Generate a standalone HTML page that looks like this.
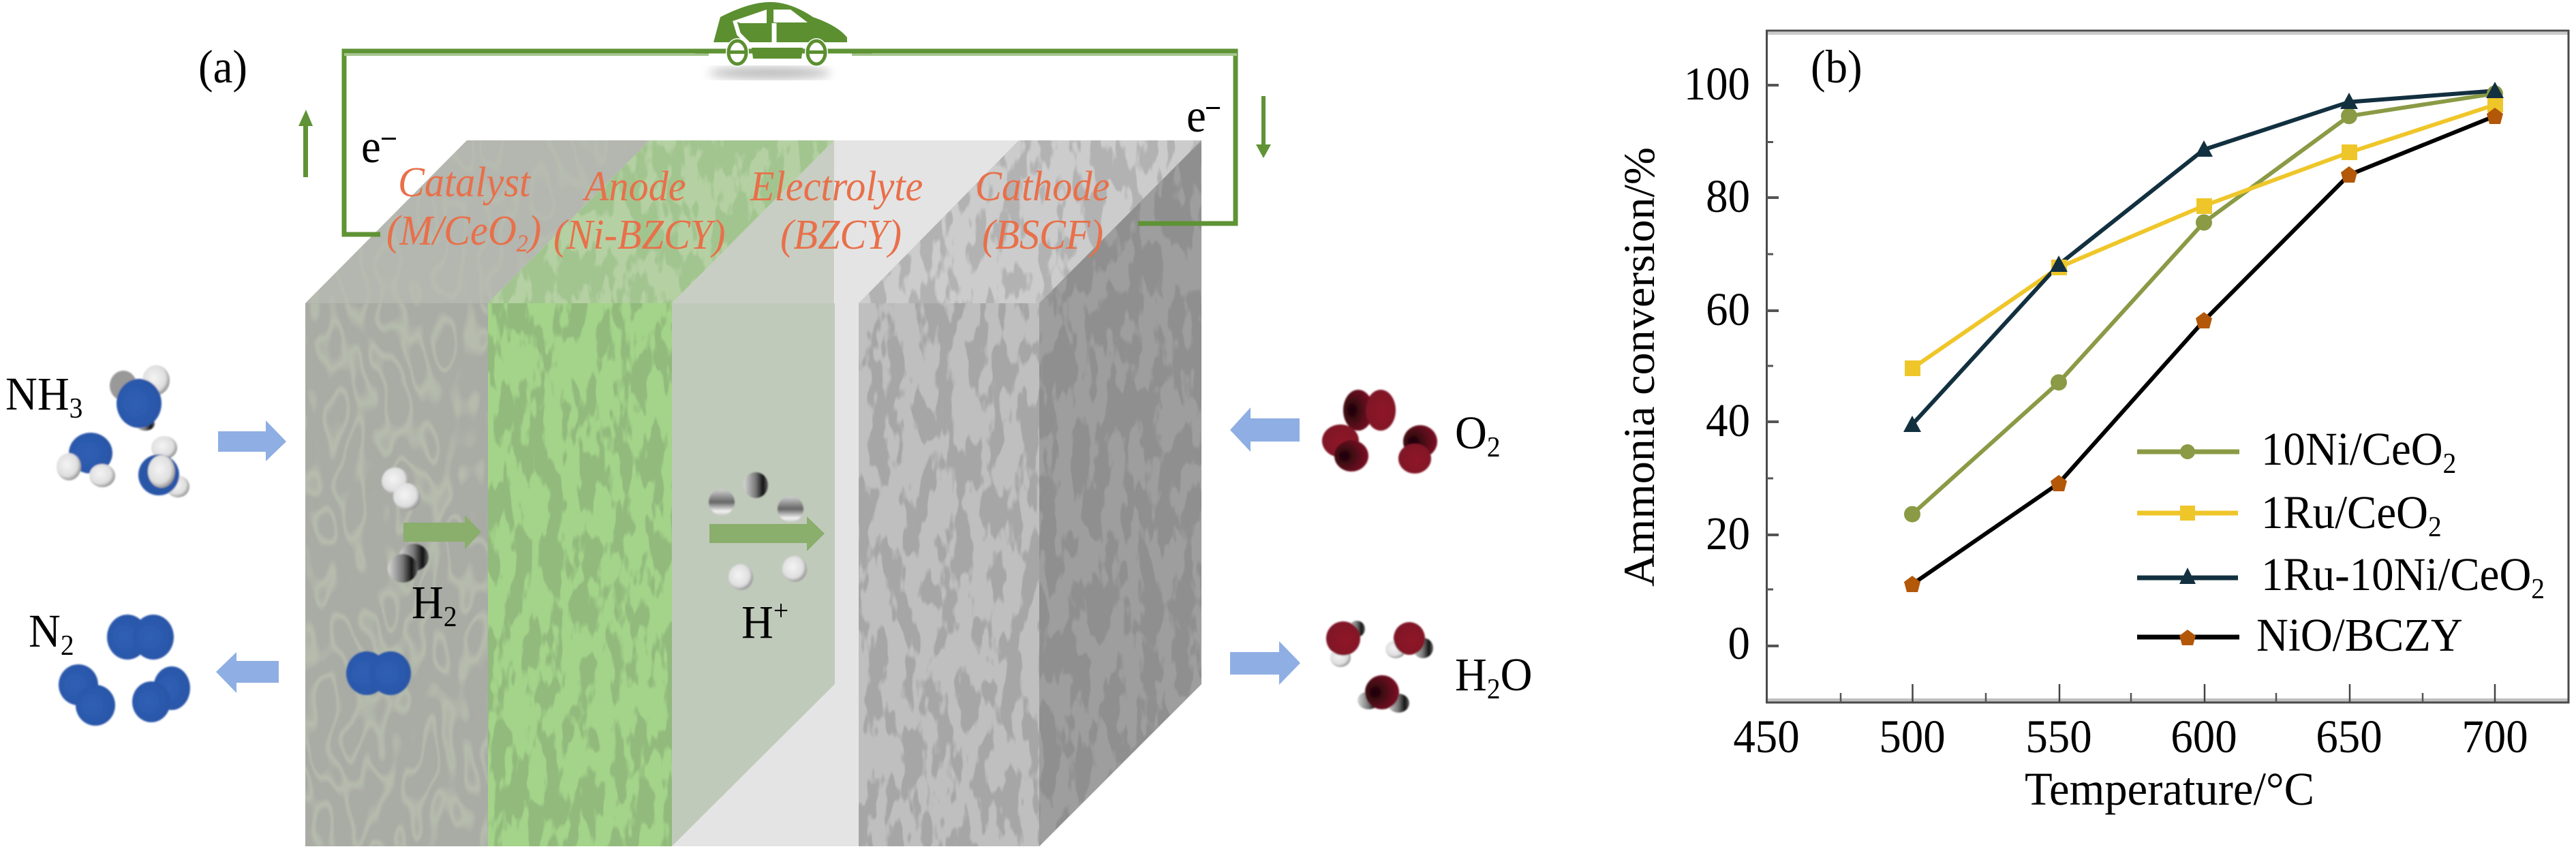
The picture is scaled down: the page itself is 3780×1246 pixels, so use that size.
<!DOCTYPE html>
<html><head><meta charset="utf-8"><style>
html,body{margin:0;padding:0;background:#fff;width:3780px;height:1246px;overflow:hidden}
svg{display:block}
text{font-family:"Liberation Serif",serif;fill:#000}
.r{font-style:italic;fill:#e8704a;font-size:62px;transform-box:fill-box;transform-origin:0 0;transform:scaleX(.94)}
.t{font-size:69px;transform-box:fill-box;transform-origin:0 0;transform:scaleX(.94)}
.m{transform-origin:50% 0}
.e{transform-origin:100% 0}
.n{font-size:69px}
</style></head><body>
<svg width="3780" height="1246" viewBox="0 0 3780 1246" xmlns="http://www.w3.org/2000/svg">
<defs>
<filter id="mA" x="0" y="0" width="100%" height="100%" color-interpolation-filters="sRGB"><feTurbulence type="fractalNoise" baseFrequency=".04 .014" numOctaves="3" seed="4"/><feColorMatrix values="0 0 0 0 .64  0 0 0 0 .83  0 0 0 0 .54  12 0 0 0 -5.2"/></filter>
<filter id="mAT" x="0" y="0" width="100%" height="100%" color-interpolation-filters="sRGB"><feTurbulence type="fractalNoise" baseFrequency=".04 .016" numOctaves="3" seed="9"/><feColorMatrix values="0 0 0 0 .71  0 0 0 0 .82  0 0 0 0 .64  12 0 0 0 -5.6"/></filter>
<filter id="mC" x="0" y="0" width="100%" height="100%" color-interpolation-filters="sRGB"><feTurbulence type="fractalNoise" baseFrequency=".04 .014" numOctaves="3" seed="12"/><feColorMatrix values="0 0 0 0 .75  0 0 0 0 .75  0 0 0 0 .75  12 0 0 0 -5.2"/></filter>
<filter id="mCT" x="0" y="0" width="100%" height="100%" color-interpolation-filters="sRGB"><feTurbulence type="fractalNoise" baseFrequency=".04 .014" numOctaves="3" seed="21"/><feColorMatrix values="0 0 0 0 .80  0 0 0 0 .80  0 0 0 0 .80  12 0 0 0 -5.2"/></filter>
<filter id="mS" x="0" y="0" width="100%" height="100%" color-interpolation-filters="sRGB"><feTurbulence type="fractalNoise" baseFrequency=".04 .014" numOctaves="3" seed="30"/><feColorMatrix values="0 0 0 0 .62  0 0 0 0 .62  0 0 0 0 .62  12 0 0 0 -5.6"/></filter>
<filter id="lines" x="0" y="0" width="100%" height="100%" color-interpolation-filters="sRGB"><feTurbulence type="fractalNoise" baseFrequency=".02 .009" numOctaves="2" seed="6"/><feComponentTransfer><feFuncR type="table" tableValues="0 0 0 0 0 0 1 0 0 0 1 0 0 0 0 0 0"/></feComponentTransfer><feColorMatrix values="0 0 0 0 .73  0 0 0 0 .76  0 0 0 0 .69  .8 0 0 0 0"/><feGaussianBlur stdDeviation="1"/></filter>
<filter id="b8"><feGaussianBlur stdDeviation="7"/></filter>
<filter id="b1"><feGaussianBlur stdDeviation="1"/></filter>
<radialGradient id="bl" cx=".42" cy=".5" r=".8"><stop offset="0" stop-color="#2f5fb5"/><stop offset=".7" stop-color="#2a56a8"/><stop offset="1" stop-color="#16305f"/></radialGradient>
<radialGradient id="wh" cx=".42" cy=".42" r=".66"><stop offset="0" stop-color="#f4f4f4"/><stop offset=".65" stop-color="#dedede"/><stop offset="1" stop-color="#777"/></radialGradient>
<linearGradient id="dk" x1="0" x2="1" y1="0" y2="0"><stop offset="0" stop-color="#d6d6d6"/><stop offset=".5" stop-color="#777"/><stop offset=".8" stop-color="#111"/><stop offset="1" stop-color="#666"/></linearGradient>
<linearGradient id="st" x1="0" x2="0" y1="0" y2="1"><stop offset="0" stop-color="#d0d0d0"/><stop offset=".5" stop-color="#666"/><stop offset=".85" stop-color="#f2f2f2"/><stop offset="1" stop-color="#ccc"/></linearGradient>
<radialGradient id="rd" cx=".58" cy=".55" r=".8"><stop offset="0" stop-color="#8f1529"/><stop offset=".7" stop-color="#7f1226"/><stop offset="1" stop-color="#2a0509"/></radialGradient>
<radialGradient id="rd2" cx=".3" cy=".5" r=".85"><stop offset="0" stop-color="#180306"/><stop offset=".5" stop-color="#5b0c1b"/><stop offset="1" stop-color="#8f1529"/></radialGradient>
<clipPath id="c1"><polygon points="448,445 716,445 716,1242 448,1242"/></clipPath>
<clipPath id="c1t"><polygon points="685,206 953,206 716,445 448,445"/></clipPath>
<clipPath id="c2"><rect x="716" y="445" width="270" height="797"/></clipPath>
<clipPath id="c2t"><polygon points="953,206 1224,206 986,445 716,445"/></clipPath>
<clipPath id="c4"><rect x="1260" y="445" width="265" height="797"/></clipPath>
<clipPath id="c4t"><polygon points="1495,206 1763,206 1525,445 1260,445"/></clipPath>
<clipPath id="c4s"><polygon points="1763,206 1763,1004 1525,1242 1525,445"/></clipPath>
</defs>
<rect width="3780" height="1246" fill="#fff"/>

<!-- block -->
<polygon points="1224,206 1495,206 1260,445 1260,1242 986,1242 1225,1004" fill="#e4e4e4"/>
<rect x="448" y="445" width="268" height="797" fill="#a9aba5"/>
<g clip-path="url(#c1)"><rect x="448" y="445" width="268" height="797" filter="url(#lines)"/></g>
<polygon points="685,206 953,206 716,445 448,445" fill="#b4b6b0"/>
<g clip-path="url(#c1t)" opacity=".7"><rect x="448" y="206" width="505" height="239" filter="url(#lines)"/></g>
<rect x="716" y="445" width="270" height="797" fill="#91ba7c"/>
<g clip-path="url(#c2)"><rect x="716" y="445" width="270" height="797" filter="url(#mA)"/></g>
<polygon points="953,206 1224,206 986,445 716,445" fill="#a2c590"/>
<g clip-path="url(#c2t)"><rect x="716" y="206" width="508" height="239" filter="url(#mAT)"/></g>
<polygon points="986,445 1225,445 1225,1004 986,1242" fill="#c0cabb"/>
<polygon points="1224,206 1224,445 986,445" fill="#c8cec3"/>
<rect x="1260" y="445" width="265" height="797" fill="#a6a6a6"/>
<g clip-path="url(#c4)"><rect x="1260" y="445" width="265" height="797" filter="url(#mC)"/></g>
<polygon points="1495,206 1763,206 1525,445 1260,445" fill="#b2b2b2"/>
<g clip-path="url(#c4t)"><rect x="1260" y="206" width="503" height="239" filter="url(#mCT)"/></g>
<polygon points="1763,206 1763,1004 1525,1242 1525,445" fill="#8f8f8f"/>
<g clip-path="url(#c4s)"><rect x="1525" y="206" width="238" height="1036" filter="url(#mS)"/></g>

<!-- circuit -->
<path d="M558,344 H505 V75 H1813 V328 H1670" fill="none" stroke="#5f9335" stroke-width="7"/>
<rect x="505" y="78" width="1310" height="4" fill="#a6c58e"/>
<polygon points="445,260 452,260 452,185 459,185 449,161 438,185 445,185" fill="#5f9335"/>
<polygon points="1851,141 1857,141 1857,212 1865,212 1854,232 1843,212 1851,212" fill="#5f9335"/>

<!-- car -->
<ellipse cx="1130" cy="107" rx="90" ry="9" fill="#bbb" filter="url(#b8)"/>
<rect x="1040" y="62" width="210" height="30" fill="#fff"/>
<path d="M1047,62 L1057,25 Q1100,3 1130,3 Q1160,3 1193,25 Q1230,38 1243,55 L1243,62 Z" fill="#5b8f30"/>
<path d="M1078,30 L1125,14 V34 H1086 Z M1135,14 H1160 L1185,33 H1135 Z" fill="#fff"/>
<path d="M1136,34 V64" stroke="#fff" stroke-width="7"/>
<path d="M1078,30 L1084,50 L1100,66" fill="none" stroke="#fff" stroke-width="6"/>
<rect x="1020" y="71.500" width="260" height="7" fill="#5f9335"/>
<polygon points="1103,70 1178,70 1176,86 1105,86" fill="#5b8f30"/>
<ellipse cx="1082" cy="77" rx="17" ry="21" fill="#fff"/><ellipse cx="1198" cy="77" rx="17" ry="21" fill="#fff"/>
<ellipse cx="1082" cy="77" rx="13" ry="17" fill="none" stroke="#5b8f30" stroke-width="5"/>
<ellipse cx="1198" cy="77" rx="13" ry="17" fill="none" stroke="#5b8f30" stroke-width="5"/>
<rect x="1070" y="74" width="24" height="5" fill="#5b8f30"/><rect x="1186" y="74" width="24" height="5" fill="#5b8f30"/>

<!-- arrows -->
<g fill="#8faee3">
<polygon points="320,633 390,633 390,617 420,648 390,677 390,663 320,663"/>
<polygon points="409,970 347,970 347,957 317,986 347,1017 347,1002 409,1002"/>
<polygon points="1907,614 1835,614 1835,598 1805,631 1835,663 1835,648 1907,648"/>
<polygon points="1805,957 1877,957 1877,941 1908,973 1877,1005 1877,990 1805,990"/>
</g>
<g fill="#8aae6c">
<polygon points="592,767 682,767 682,756 706,781 682,806 682,795 592,795"/>
<polygon points="1041,769 1184,769 1184,758 1210,783 1184,809 1184,797 1041,797"/>
</g>

<!-- molecules -->
<g filter="url(#b1)">
<ellipse cx="181" cy="566" rx="20" ry="22" fill="#999"/><ellipse cx="229" cy="558" rx="20" ry="22" fill="url(#wh)"/><ellipse cx="213" cy="622" rx="14" ry="10" fill="url(#dk)"/>
<ellipse cx="204" cy="592" rx="33" ry="36" fill="url(#bl)"/>
<ellipse cx="133" cy="665" rx="32" ry="30" fill="url(#bl)"/><ellipse cx="101" cy="685" rx="18" ry="20" fill="url(#wh)"/><ellipse cx="150" cy="698" rx="19" ry="17" fill="url(#wh)"/>
<ellipse cx="241" cy="657" rx="19" ry="17" fill="url(#wh)"/><ellipse cx="261" cy="714" rx="17" ry="16" fill="url(#wh)"/>
<ellipse cx="233" cy="697" rx="30" ry="30" fill="#2a56a8"/><ellipse cx="237" cy="692" rx="20" ry="24" fill="url(#wh)"/>
<ellipse cx="580" cy="706" rx="20" ry="20" fill="url(#wh)"/><ellipse cx="597" cy="729" rx="20" ry="20" fill="url(#wh)"/>
<ellipse cx="607" cy="818" rx="22" ry="20" fill="url(#dk)"/><ellipse cx="591" cy="834" rx="22" ry="21" fill="url(#dk)"/>
<ellipse cx="538" cy="988" rx="30" ry="32" fill="url(#bl)"/><ellipse cx="573" cy="988" rx="30" ry="32" fill="url(#bl)"/>
<ellipse cx="187" cy="935" rx="30" ry="33" fill="url(#bl)"/><ellipse cx="225" cy="935" rx="30" ry="33" fill="url(#bl)"/>
<ellipse cx="115" cy="1005" rx="29" ry="30" fill="url(#bl)"/><ellipse cx="140" cy="1035" rx="29" ry="30" fill="url(#bl)"/>
<ellipse cx="252" cy="1010" rx="27" ry="32" fill="url(#bl)"/><ellipse cx="222" cy="1030" rx="28" ry="30" fill="url(#bl)"/>
<ellipse cx="1109" cy="712" rx="18" ry="19" fill="url(#dk)"/><ellipse cx="1059" cy="737" rx="19" ry="19" fill="url(#st)"/><ellipse cx="1160" cy="747" rx="19" ry="19" fill="url(#st)"/>
<ellipse cx="1087" cy="847" rx="18" ry="19" fill="url(#wh)"/><ellipse cx="1166" cy="835" rx="18" ry="19" fill="url(#wh)"/>
<ellipse cx="1993" cy="602" rx="22" ry="30" fill="url(#rd2)"/><ellipse cx="2026" cy="602" rx="22" ry="30" fill="url(#rd)"/>
<ellipse cx="1967" cy="647" rx="27" ry="24" fill="url(#rd)"/><ellipse cx="1983" cy="669" rx="25" ry="23" fill="url(#rd2)"/>
<ellipse cx="2084" cy="648" rx="25" ry="24" fill="url(#rd2)"/><ellipse cx="2076" cy="673" rx="24" ry="22" fill="url(#rd)"/>
<ellipse cx="1991" cy="923" rx="12" ry="12" fill="url(#dk)"/><ellipse cx="1967" cy="965" rx="15" ry="14" fill="url(#wh)"/><ellipse cx="1971" cy="937" rx="25" ry="25" fill="url(#rd)"/>
<ellipse cx="2048" cy="953" rx="15" ry="13" fill="url(#wh)"/><ellipse cx="2088" cy="951" rx="15" ry="15" fill="url(#dk)"/><ellipse cx="2068" cy="937" rx="23" ry="24" fill="url(#rd)"/>
<ellipse cx="2008" cy="1028" rx="16" ry="13" fill="url(#dk)"/><ellipse cx="2052" cy="1032" rx="16" ry="14" fill="url(#dk)"/><ellipse cx="2028" cy="1016" rx="25" ry="25" fill="url(#rd2)"/>
</g>

<!-- labels left -->
<text class="t" x="291" y="121">(a)</text>
<text class="t" x="530" y="238">e</text><rect x="560" y="202" width="21" height="3"/>
<text class="t" x="1741" y="193">e</text><rect x="1770" y="157" width="20" height="3"/>
<text class="r" x="584" y="288">Catalyst</text>
<text class="r" x="567" y="359">(M/CeO<tspan font-size="36" dy="10">2</tspan><tspan dy="-10">)</tspan></text>
<text class="r" x="858" y="294">Anode</text>
<text class="r" x="812" y="365">(Ni-BZCY)</text>
<text class="r" x="1101" y="294">Electrolyte</text>
<text class="r" x="1145" y="365">(BZCY)</text>
<text class="r" x="1431" y="294">Cathode</text>
<text class="r" x="1441" y="365">(BSCF)</text>
<text class="t" x="8" y="601">NH<tspan font-size="42" dy="12">3</tspan></text>
<text class="t" x="42" y="949">N<tspan font-size="42" dy="12">2</tspan></text>
<text class="t" x="604" y="907">H<tspan font-size="42" dy="12">2</tspan></text>
<text class="t" x="1088" y="936">H<tspan font-size="42" dy="-26">+</tspan></text>
<text class="t" x="2135" y="658">O<tspan font-size="42" dy="12">2</tspan></text>
<text class="t" x="2135" y="1013">H<tspan font-size="42" dy="12">2</tspan><tspan dy="-12">O</tspan></text>

<!-- chart frame -->
<rect x="2592" y="47" width="1177" height="4" fill="#c9c9c9"/>
<rect x="2592" y="1025" width="1177" height="5" fill="#c0c0c0"/>
<rect x="2592.500" y="45" width="1176.500" height="986" fill="none" stroke="#4a4a4a" stroke-width="3"/>
<path d="M2592,125 h18 M2592,290 h18 M2592,456 h18 M2592,619 h18 M2592,785 h18 M2592,948 h18" stroke="#555" stroke-width="4"/>
<path d="M2592,208.500 h10 M2592,373 h10 M2592,537 h10 M2592,702 h10 M2592,865 h10" stroke="#555" stroke-width="3"/>
<path d="M2806.500,1004 V1031 M3022,1004 V1031 M3235,1004 V1031 M3448,1004 V1031 M3661,1004 V1031" stroke="#444" stroke-width="2.500"/>
<path d="M2701,1017 V1031 M2914,1017 V1031 M3127,1017 V1031 M3340,1017 V1031 M3555,1017 V1031" stroke="#555" stroke-width="2.500"/>

<!-- tick labels -->
<g text-anchor="end">
<text x="2568" y="146" class="t e">100</text><text x="2568" y="311" class="t e">80</text><text x="2568" y="477" class="t e">60</text><text x="2568" y="640" class="t e">40</text><text x="2568" y="806" class="t e">20</text><text x="2568" y="967" class="t e">0</text>
</g>
<g text-anchor="middle">
<text x="2592" y="1104" class="t m">450</text><text x="2806" y="1104" class="t m">500</text><text x="3021" y="1104" class="t m">550</text><text x="3234" y="1104" class="t m">600</text><text x="3447" y="1104" class="t m">650</text><text x="3661" y="1104" class="t m">700</text>
</g>
<text x="2971" y="1181" class="n" textLength="425" lengthAdjust="spacingAndGlyphs">Temperature/°C</text>
<text transform="translate(2427,861) rotate(-90)" font-size="65" style="font-size:65px" textLength="645" lengthAdjust="spacingAndGlyphs">Ammonia conversion/%</text>
<text x="2657" y="121" class="t">(b)</text>

<!-- series -->
<polyline points="2806,754.600 3021,561.200 3234,326.500 3447,170.300 3661,137.300" fill="none" stroke="#8a9a45" stroke-width="6"/>
<polyline points="2806,540.600 3021,392.500 3234,302 3447,223.800 3661,153.800" fill="none" stroke="#efc62a" stroke-width="6"/>
<polyline points="2806,623 3021,388.400 3234,219.600 3447,149.700 3661,133.200" fill="none" stroke="#12303f" stroke-width="6"/>
<polyline points="2806,857.500 3021,709.300 3234,470.700 3447,256.700 3661,170.300" fill="none" stroke="#000" stroke-width="6"/>
<g fill="#8a9a45"><circle cx="2806" cy="754.600" r="12"/><circle cx="3021" cy="561.200" r="12"/><circle cx="3234" cy="326.500" r="12"/><circle cx="3447" cy="170.300" r="12"/><circle cx="3661" cy="137.300" r="12"/></g>
<g fill="#efc62a"><rect x="2795" y="529" width="23" height="23"/><rect x="3010" y="381" width="23" height="23"/><rect x="3223" y="291" width="23" height="23"/><rect x="3436" y="212" width="23" height="23"/><rect x="3650" y="142" width="23" height="23"/></g>
<g fill="#12303f"><polygon points="2806,610 2819,634 2793,634"/><polygon points="3021,375 3034,399 3008,399"/><polygon points="3234,206 3247,230 3221,230"/><polygon points="3447,136 3460,160 3434,160"/><polygon points="3661,120 3674,144 3648,144"/></g>
<g fill="#b35708"><polygon points="2806,845 2818,854 2814,869 2798,869 2794,854"/><polygon points="3021,697 3033,706 3029,721 3013,721 3009,706"/><polygon points="3234,458 3246,467 3242,482 3226,482 3222,467"/><polygon points="3447,244 3459,253 3455,268 3439,268 3435,253"/><polygon points="3661,158 3673,167 3669,182 3653,182 3649,167"/></g>

<!-- legend -->
<path d="M3136,663 H3286" stroke="#8a9a45" stroke-width="7"/><circle cx="3210" cy="663" r="11" fill="#8a9a45"/>
<path d="M3136,753 H3284" stroke="#efc62a" stroke-width="7"/><rect x="3199" y="742" width="22" height="22" fill="#efc62a"/>
<path d="M3136,848 H3284" stroke="#12303f" stroke-width="7"/><polygon points="3210,833 3222,857 3198,857" fill="#12303f"/>
<path d="M3136,935 H3286" stroke="#000" stroke-width="7"/><polygon points="3210,924 3222,933 3218,947 3202,947 3198,933" fill="#b35708"/>
<text x="3318" y="682" class="t">10Ni/CeO<tspan font-size="42" dy="12">2</tspan></text>
<text x="3318" y="775" class="t">1Ru/CeO<tspan font-size="42" dy="12">2</tspan></text>
<text x="3318" y="866" class="t">1Ru-10Ni/CeO<tspan font-size="42" dy="12">2</tspan></text>
<text x="3311" y="955" class="t">NiO/BCZY</text>
</svg>
</body></html>
